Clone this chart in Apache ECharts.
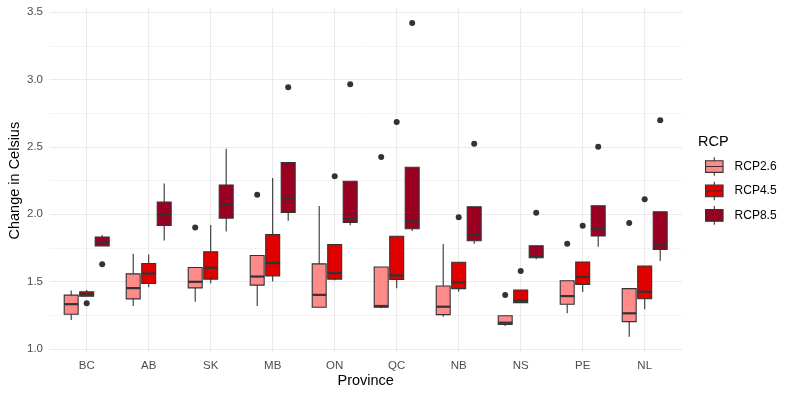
<!DOCTYPE html>
<html><head><meta charset="utf-8">
<script src="https://cdn.jsdelivr.net/npm/echarts@6/dist/echarts.min.js"></script>
<style>html,body{margin:0;padding:0;background:#fff}#chart{width:793px;height:397px}</style>
</head><body><div id="chart"></div><script>
// ---- data ----
const provinces = ['BC','AB','SK','MB','ON','QC','NB','NS','PE','NL'];
const rcpNames = ['RCP2.6','RCP4.5','RCP8.5'];
const yTicks = [1.0, 1.5, 2.0, 2.5, 3.0, 3.5];
// [lower whisker, Q1, median, Q3, upper whisker]
const rcp26 = [
  [1.216,1.258,1.333,1.400,1.434],
  [1.320,1.372,1.452,1.558,1.707],
  [1.350,1.454,1.499,1.605,1.605],
  [1.320,1.474,1.538,1.694,1.694],
  [1.310,1.310,1.402,1.632,2.062],
  [1.303,1.310,1.319,1.609,1.609],
  [1.240,1.255,1.314,1.468,1.780],
  [1.171,1.183,1.195,1.247,1.247],
  [1.265,1.332,1.393,1.507,1.507],
  [1.091,1.203,1.265,1.448,1.448]
];
const rcp45 = [
  [1.392,1.392,1.407,1.424,1.439],
  [1.459,1.486,1.560,1.635,1.702],
  [1.489,1.519,1.603,1.722,1.920],
  [1.501,1.543,1.638,1.850,2.270],
  [1.511,1.519,1.563,1.776,1.776],
  [1.451,1.517,1.547,1.837,1.837],
  [1.425,1.448,1.495,1.644,1.644],
  [1.344,1.344,1.359,1.438,1.438],
  [1.423,1.480,1.535,1.646,1.646],
  [1.295,1.373,1.425,1.616,1.616]
];
const rcp85 = [
  [1.766,1.766,1.791,1.831,1.846],
  [1.806,1.918,2.002,2.091,2.228],
  [1.873,1.972,2.071,2.218,2.486],
  [1.952,2.014,2.116,2.384,2.384],
  [1.918,1.940,1.972,2.245,2.245],
  [1.876,1.893,1.950,2.349,2.349],
  [1.782,1.804,1.851,2.056,2.056],
  [1.666,1.678,1.690,1.767,1.767],
  [1.759,1.839,1.891,2.064,2.064],
  [1.653,1.740,1.772,2.019,2.019]
];
const out26 = [null, null, 1.903, 2.146, null, 2.425, null, 1.401, 1.782, 1.935];
const out45 = [1.340, null, null, null, 2.282, 2.685, 1.978, 1.579, 1.915, 2.111];
const out85 = [1.630, null, null, 2.944, 2.965, 3.420, 2.524, 2.012, 2.502, 2.698];

// ---- style / layout ----
const fills = ['#FF8A8A', '#E00000', '#990022'];
const FONT = "'Liberation Sans', Arial, Helvetica, sans-serif";
const W = 793;
const PANEL_L = 49.5, PANEL_R = 682;
const Y1PX = 349, Y35PX = 12.3;           // pixel rows of 1.0 and 3.5
const PANEL_T = 7.5, PANEL_B = 352;
const CAT0 = 86.7, CATSTEP = 62;
const ppu = (Y1PX - Y35PX) / 2.5;
const dataYMin = 1 - (PANEL_B - Y1PX) / ppu;
const dataYMax = 3.5 + (Y35PX - PANEL_T) / ppu;

function makeRender(k) {
  return function (params, api) {
    const i = api.value(0);
    const band = api.size([1, 0])[0];
    const dodge = band * 0.75 / 3;
    const cx = api.coord([i, api.value(3)])[0] + (k - 1) * dodge;
    const w = dodge * 0.9;
    const yLo = api.coord([i, api.value(1)])[1];
    const yQ1 = api.coord([i, api.value(2)])[1];
    const yMed = api.coord([i, api.value(3)])[1];
    const yQ3 = api.coord([i, api.value(4)])[1];
    const yHi = api.coord([i, api.value(5)])[1];
    const line = { stroke: '#333333', lineWidth: 1.1 };
    const children = [
      { type: 'line', shape: { x1: cx, y1: yQ3, x2: cx, y2: yHi }, style: line },
      { type: 'line', shape: { x1: cx, y1: yQ1, x2: cx, y2: yLo }, style: line },
      { type: 'rect', shape: { x: cx - w / 2, y: yQ3, width: w, height: yQ1 - yQ3 },
        style: { fill: fills[k], stroke: '#333333', lineWidth: 1.1 } },
      { type: 'line', shape: { x1: cx - w / 2, y1: yMed, x2: cx + w / 2, y2: yMed },
        style: { stroke: '#333333', lineWidth: 2.2 } }
    ];
    const o = api.value(6);
    if (!isNaN(o)) {
      const p = api.coord([i, o]);
      children.push({ type: 'circle', shape: { cx: cx, cy: p[1], r: 3 }, style: { fill: '#333333' } });
    }
    return { type: 'group', children: children };
  };
}

const sets = [rcp26, rcp45, rcp85];
const outs = [out26, out45, out85];
const series = sets.map(function (s, k) {
  return {
    name: rcpNames[k],
    type: 'custom',
    xAxisIndex: 1, yAxisIndex: 2,
    itemStyle: { color: fills[k] },
    encode: { x: 0, y: [1, 2, 3, 4, 5] },
    renderItem: makeRender(k),
    data: s.map(function (d, i) {
      const o = outs[k][i];
      return [i, d[0], d[1], d[2], d[3], d[4], o == null ? NaN : o];
    })
  };
});

const legendIcon = 'path://M0,3.5L17.5,3.5L17.5,15.1L0,15.1ZM0,9.3L17.5,9.3M8.75,0L8.75,3.5M8.75,15.1L8.75,18.6';

const chart = echarts.init(document.getElementById('chart'), null, { renderer: 'canvas' });
chart.setOption({
  animation: false,
  backgroundColor: '#ffffff',
  textStyle: { fontFamily: FONT },
  title: {
    text: 'RCP', left: 698, top: 134.5, padding: 0,
    textStyle: { fontSize: 14.5, fontWeight: 'normal', color: '#000000', fontFamily: FONT }
  },
  legend: {
    orient: 'vertical', left: 705, top: 156.7, padding: 0,
    itemWidth: 17.5, itemHeight: 18.6, itemGap: 4.7,
    icon: legendIcon,
    data: rcpNames,
    itemStyle: { borderColor: '#333333', borderWidth: 1.1 },
    textStyle: { fontSize: 12, color: '#000000', fontFamily: FONT, padding: [0, 0, 0, 6.5] }
  },
  grid: [
    { left: PANEL_L, right: W - PANEL_R, top: Y35PX, bottom: 397 - Y1PX, outerBoundsMode: 'none', containLabel: false },
    { left: CAT0 - CATSTEP / 2, right: W - (CAT0 + CATSTEP * 9.5), top: PANEL_T, bottom: 397 - PANEL_B, outerBoundsMode: 'none', containLabel: false }
  ],
  xAxis: [
    { gridIndex: 0, type: 'value', show: false, min: 0, max: 1 },
    {
      gridIndex: 1, type: 'category', data: provinces, boundaryGap: true,
      axisLine: { show: false }, axisTick: { show: false },
      axisLabel: { color: '#4d4d4d', fontSize: 11.5, margin: 7.5, fontFamily: FONT },
      splitLine: { show: true, alignWithLabel: true, lineStyle: { color: '#ebebeb', width: 1.1 } },
      name: 'Province', nameLocation: 'middle', nameGap: 21.5, nameMoveOverlap: false,
      nameTextStyle: { fontSize: 14.5, color: '#000000', fontFamily: FONT }
    }
  ],
  yAxis: [
    {
      gridIndex: 0, type: 'value', position: 'left', min: yTicks[0], max: yTicks[yTicks.length - 1],
      interval: yTicks[1] - yTicks[0],
      axisLine: { show: false }, axisTick: { show: false },
      axisLabel: { color: '#4d4d4d', fontSize: 11.5, margin: 6.5, fontFamily: FONT,
        formatter: function (v) { return v.toFixed(1); } },
      splitLine: { show: true, lineStyle: { color: '#ebebeb', width: 1.1 } },
      name: 'Change in Celsius', nameLocation: 'middle', nameGap: 27, nameRotate: 90, nameMoveOverlap: false,
      nameTextStyle: { fontSize: 14.5, color: '#000000', fontFamily: FONT }
    },
    {
      gridIndex: 0, type: 'value', position: 'left', min: yTicks[0], max: yTicks[yTicks.length - 1],
      interval: (yTicks[1] - yTicks[0]) / 2,
      axisLine: { show: false }, axisTick: { show: false }, axisLabel: { show: false },
      splitLine: { show: true, lineStyle: { color: '#ebebeb', width: 0.55 } }
    },
    {
      gridIndex: 1, type: 'value', show: false, min: dataYMin, max: dataYMax,
      splitLine: { show: false }
    }
  ],
  series: series
});
</script></body></html>
